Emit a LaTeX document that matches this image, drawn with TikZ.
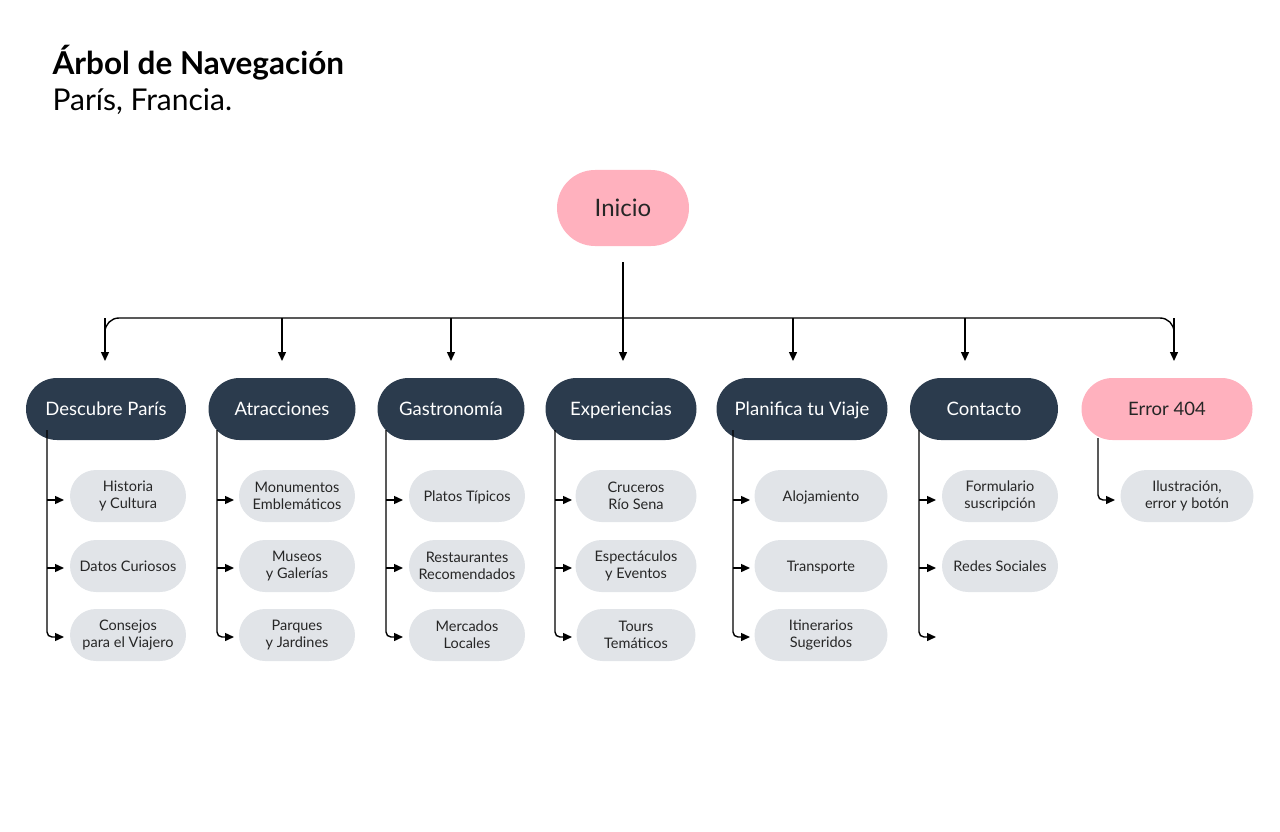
\documentclass[tikz,border=0pt]{standalone}
\usepackage{fontspec}
\setmainfont{Lato}
\usetikzlibrary{arrows.meta}
\definecolor{dark}{HTML}{2B3B4D}
\definecolor{pinkc}{HTML}{FFB1BE}
\definecolor{lite}{HTML}{E1E4E8}
\begin{document}
\begin{tikzpicture}[x=1pt,y=-1pt,
 top/.style={rounded corners=31pt,minimum height=62pt,inner sep=0pt,font=\fontsize{18.5}{20}\selectfont,text=white,fill=dark,text height=15pt,text depth=3pt},
 pk/.style={fill=pinkc,text=black!85},
 ch/.style={rounded corners=26pt,minimum height=52pt,minimum width=116pt,inner sep=0pt,align=center,fill=lite,font=\fontsize{14.5}{17}\selectfont,text=black!85},
 one/.style={text height=12pt,text depth=2pt},
 ar/.style={-{Triangle[length=9pt,width=8pt]},line width=1.4pt},
 ln/.style={line width=1.4pt}]
\useasboundingbox (0,0) rectangle (1280,832);
\node[anchor=base west,font=\fontsize{31.5}{34}\selectfont\bfseries] (t1) at (49,75) {Árbol de Navegación};
\node[anchor=base west,font=\fontsize{30}{32}\selectfont] (t2) at (49,111) {París, Francia.};
\node[top,pk,minimum width=132pt,minimum height=76pt,rounded corners=38pt,font=\fontsize{24}{26}\selectfont,text height=19pt,text depth=3pt] (ini) at (623,208) {Inicio};
\coordinate (jn) at (623,318);
\draw[ln] (623,262) -- (jn);
\coordinate (L) at (105,318); \coordinate (R) at (1174,318);
\draw[ln,rounded corners=14pt] (105,350) -- (L) -- (R) -- (1174,350);
\foreach \x in {105,282,451,623,793,965,1174}{ \draw[ar] (\x,318) -- (\x,361); }
\node[top,minimum width=160pt] (a) at (106,409) {Descubre París};
\node[top,minimum width=147pt] (b) at (282,409) {Atracciones};
\node[top,minimum width=147pt] (c) at (451,409) {Gastronomía};
\node[top,minimum width=151pt] (d) at (621,409) {Experiencias};
\node[top,minimum width=171pt] (e) at (802,409) {Planifica tu Viaje};
\node[top,minimum width=148pt] (f) at (984,409) {Contacto};
\node[top,pk,minimum width=171pt] (g) at (1167,409) {Error 404};
% children
\node[ch] (a1) at (128,496) {Historia\\y Cultura};
\node[ch,one] (a2) at (128,566) {Datos Curiosos};
\node[ch] (a3) at (128,635) {Consejos\\para el Viajero};
\node[ch] (b1) at (297,496) {Monumentos\\Emblemáticos};
\node[ch] (b2) at (297,566) {Museos\\y Galerías};
\node[ch] (b3) at (297,635) {Parques\\y Jardines};
\node[ch,one] (c1) at (467,496) {Platos Típicos};
\node[ch] (c2) at (467,566) {Restaurantes\\Recomendados};
\node[ch] (c3) at (467,635) {Mercados\\Locales};
\node[ch,minimum width=121pt] (d1) at (636,496) {Cruceros\\Río Sena};
\node[ch,minimum width=121pt] (d2) at (636,566) {Espectáculos\\y Eventos};
\node[ch,minimum width=119pt] (d3) at (636,635) {Tours\\Temáticos};
\node[ch,one,minimum width=133pt] (e1) at (821,496) {Alojamiento};
\node[ch,one,minimum width=133pt] (e2) at (821,566) {Transporte};
\node[ch,minimum width=133pt] (e3) at (821,635) {Itinerarios\\Sugeridos};
\node[ch] (f1) at (1000,496) {Formulario\\suscripción};
\node[ch,one] (f2) at (1000,566) {Redes Sociales};
\node[ch,minimum width=133pt] (g1) at (1187,496) {Ilustración,\\error y botón};
\foreach \x in {47,217,386,555,733,919}{
  \draw[ar,rounded corners=5pt] (\x,430) -- (\x,637) -- (\x+17,637);
  \draw[ar] (\x,500) -- (\x+17,500);
  \draw[ar] (\x,568) -- (\x+17,568);
}
\draw[ar,rounded corners=5pt] (1098,438) -- (1098,500) -- (1115,500);
\end{tikzpicture}
\end{document}
